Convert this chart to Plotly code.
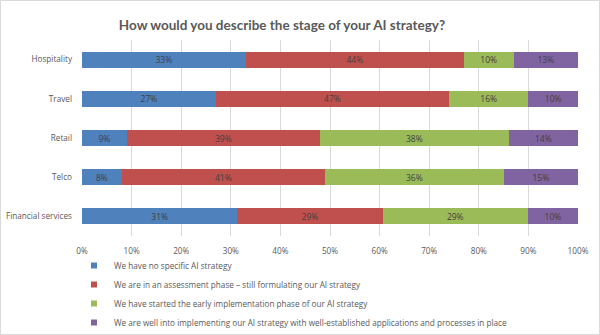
import plotly.graph_objects as go

categories = ["Hospitality", "Travel", "Retail", "Telco", "Financial services"]
series_names = [
    "We have no specific AI strategy",
    "We are in an assessment phase \u2013 still formulating our AI strategy",
    "We have started the early implementation phase of our AI strategy",
    "We are well into implementing our AI strategy with well-established applications and processes in place",
]
no_strategy = [33, 27, 9, 8, 31]
assessment = [44, 47, 39, 41, 29]
early_impl = [10, 16, 38, 36, 29]
well_into = [13, 10, 14, 15, 10]
colors = ["#4F81BD", "#C0504D", "#9BBB59", "#8064A2"]
tick_vals = [0, 10, 20, 30, 40, 50, 60, 70, 80, 90, 100]
tick_text = [f"{v}%" for v in tick_vals]

W, H = 600, 335
ML, MR, MT, MB = 82, 22, 40, 99
FS = 8.2

fig = go.Figure()
for name, vals, col in zip(series_names, [no_strategy, assessment, early_impl, well_into], colors):
    fig.add_trace(go.Bar(
        y=categories, x=vals, name=name, orientation="h",
        marker=dict(color=col, line=dict(width=0)),
        text=[f"{v}%" for v in vals], textposition="inside",
        insidetextanchor="middle", textangle=0,
        textfont=dict(size=8.5, color="#404040"),
        constraintext="none", showlegend=False, legendgroup=name,
    ))
# legend entries with small square swatches
for name, col in zip(series_names, colors):
    fig.add_trace(go.Scatter(
        x=[None], y=[None], mode="markers", name=name, legendgroup=name,
        marker=dict(symbol="square", size=6, color=col),
        showlegend=True, hoverinfo="skip",
    ))

pw = W - ML - MR
ph = H - MT - MB
fig.update_layout(
    width=W, height=H,
    margin=dict(l=ML, r=MR, t=MT, b=MB, autoexpand=False),
    barmode="stack", barnorm="percent", bargap=0.59,
    plot_bgcolor="white", paper_bgcolor="white",
    font=dict(family="Open Sans", size=FS, color="#595959"),
    title=dict(text="<b>How would you describe the stage of your AI strategy?</b>",
               x=(282 - ML) / pw, xref="paper", xanchor="center",
               y=1 - 25 / H, yanchor="middle",
               font=dict(family="Lato", size=13.5, color="#595959")),
    xaxis=dict(range=[0, 100], tickvals=tick_vals, ticktext=tick_text,
               showgrid=True, gridcolor="#D9D9D9", gridwidth=1, zeroline=False,
               showline=False, ticks="", ticklabelstandoff=9,
               tickfont=dict(size=FS, color="#595959")),
    yaxis=dict(categoryorder="array", categoryarray=categories[::-1],
               showgrid=False, showline=False, ticks="", ticklabelstandoff=9,
               tickfont=dict(size=FS, color="#595959")),
    legend=dict(orientation="v", traceorder="normal", itemsizing="trace",
                x=(74 - ML) / pw, xanchor="left",
                y=-(251 - (MT + ph)) / ph, yanchor="top",
                font=dict(size=FS, color="#595959"),
                bgcolor="rgba(0,0,0,0)", itemwidth=30, tracegroupgap=0),
    showlegend=True,
    shapes=[dict(type="rect", xref="paper", yref="paper",
                 x0=(0.5 - ML) / pw, x1=(W - 0.5 - ML) / pw,
                 y0=-(H - 0.5 - MT - ph) / ph, y1=1 + (MT - 0.5) / ph,
                 line=dict(color="#D9D9D9", width=1))],
)

fig.write_html("out.html")
